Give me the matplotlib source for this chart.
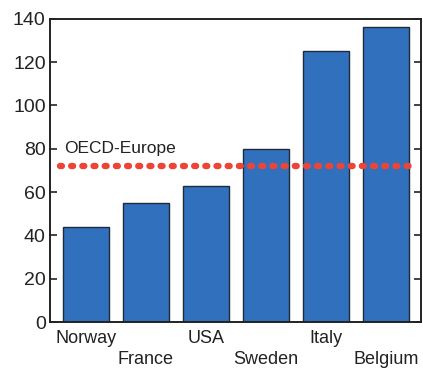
import numpy as np
import matplotlib.pyplot as plt

plt.rcParams['font.family'] = ['Liberation Sans', 'DejaVu Sans']

countries = ['Norway', 'France', 'USA', 'Sweden', 'Italy', 'Belgium']
values = [44, 55, 63, 80, 125, 136]
oecd_europe = 72

fig = plt.figure(figsize=(4.23, 3.69), dpi=100)
ax = fig.add_axes([0.118, 0.127, 0.877, 0.822])

x = np.arange(len(countries))
ax.bar(x, values, width=0.77, color='#3170bd', edgecolor='#1e2a3a', linewidth=1.0)

# OECD-Europe reference line, dotted
ax.plot([-0.43, 5.42], [oecd_europe, oecd_europe], color='#ec4437',
        linewidth=4.6, dashes=(0.3, 1.45), dash_capstyle='round', zorder=3)
ax.text(-0.36, oecd_europe + 4.5, 'OECD-Europe', fontsize=12.5, color='#222222',
        ha='left', va='bottom')

ax.set_xlim(-0.6, 5.58)
ax.set_ylim(0, 140)
ax.set_yticks(range(0, 141, 20))
ax.tick_params(axis='y', direction='in', length=5, width=1.2, labelsize=14,
               right=True, pad=3, colors='#222222')
ax.set_xticks([])

# staggered country labels
for i, name in enumerate(countries):
    off = -0.025 if i % 2 == 0 else -0.095
    ax.text(i, off, name, transform=ax.get_xaxis_transform(), ha='center', va='top',
            fontsize=13, color='#222222')

for s in ax.spines.values():
    s.set_linewidth(1.4)
    s.set_color('#222222')

plt.savefig('out.png', dpi=100)
